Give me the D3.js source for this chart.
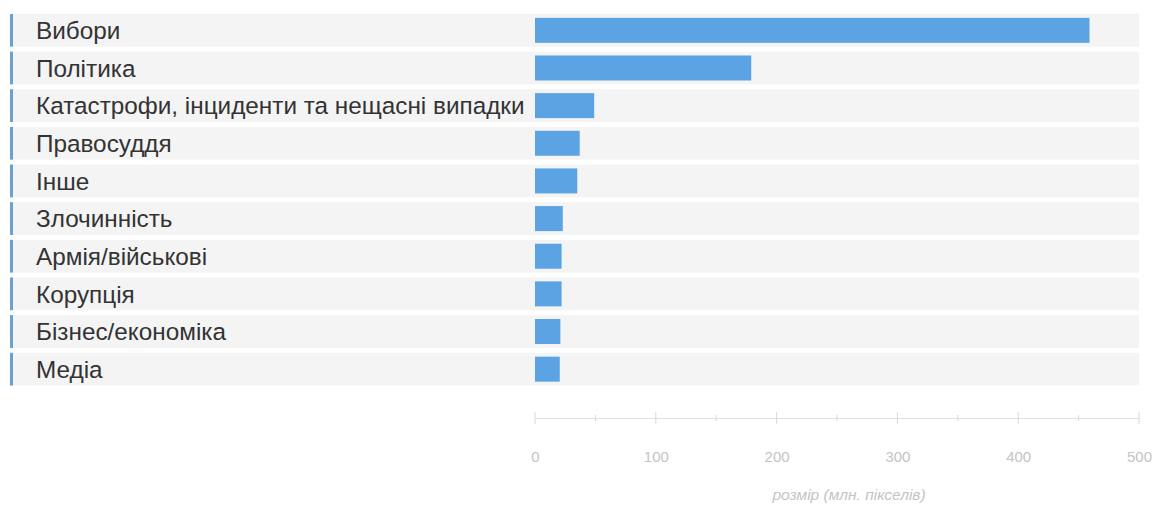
<!DOCTYPE html>
<html><head><meta charset="utf-8">
<script src="https://cdn.jsdelivr.net/npm/d3@7"></script>
<style>body{margin:0;background:#fff}svg{display:block}</style>
</head><body>
<svg id="c" width="1154" height="509"></svg>
<script>
const categories = ["Вибори","Політика","Катастрофи, інциденти та нещасні випадки","Правосуддя","Інше","Злочинність","Армія/військові","Корупція","Бізнес/економіка","Медіа"];
const values = [459, 179, 49, 37, 35, 23, 22, 22, 21, 20.5];
const tickValues = [0,100,200,300,400,500];
const minorTicks = [50,150,250,350,450];
const axisTitle = "розмір (млн. пікселів)";

const svg = d3.select("#c");
const x = d3.scaleLinear().domain([0,500]).range([535,1139]);
const y = d3.scaleBand().domain(categories).range([11.5, 388]).paddingInner(0.13).paddingOuter(0.065);

const rows = svg.selectAll("g.row").data(categories).join("g").attr("class","row");
rows.append("rect").attr("x",13).attr("y",d=>y(d)).attr("width",1126).attr("height",y.bandwidth()).attr("fill","#f4f4f4");
rows.append("rect").attr("x",10).attr("y",d=>y(d)).attr("width",3).attr("height",y.bandwidth()).attr("fill","#6f9fcb");
rows.append("text").attr("x",36).attr("y",d=>y(d)+y.bandwidth()/2).attr("dy","0.36em")
  .attr("font-family","Liberation Sans, Arial, sans-serif").attr("font-size",24.3).attr("fill","#333").text(d=>d);

const bh = 25;
svg.selectAll("rect.bar").data(values).join("rect").attr("class","bar")
  .attr("x",x(0)).attr("y",(d,i)=>y(categories[i])+y.bandwidth()/2-bh/2)
  .attr("width",d=>x(d)-x(0)).attr("height",bh).attr("fill","#5ba3e3");

const ay = 418;
const gAxis = svg.append("g").attr("transform",`translate(0,${ay})`);
gAxis.call(d3.axisBottom(x).tickValues(tickValues).tickSize(0).tickPadding(33).tickFormat(d3.format("d")));
gAxis.select(".domain").attr("stroke","#e0e0e0");
gAxis.selectAll("text").attr("font-family","Liberation Sans, Arial, sans-serif").attr("font-size",15).attr("fill","#c4c4c4");
gAxis.selectAll(".maj").data(tickValues).join("line").attr("class","maj")
  .attr("x1",d=>x(d)).attr("x2",d=>x(d)).attr("y1",-6).attr("y2",6).attr("stroke","#d8d8d8");
gAxis.selectAll(".min").data(minorTicks).join("line").attr("class","min")
  .attr("x1",d=>x(d)).attr("x2",d=>x(d)).attr("y1",-3).attr("y2",3).attr("stroke","#d8d8d8");

svg.append("text").attr("x",849).attr("y",500).attr("text-anchor","middle")
  .attr("font-family","Liberation Sans, Arial, sans-serif").attr("font-size",15.5).attr("font-style","italic")
  .attr("fill","#c4c4c4").text(axisTitle);
</script>
</body></html>
